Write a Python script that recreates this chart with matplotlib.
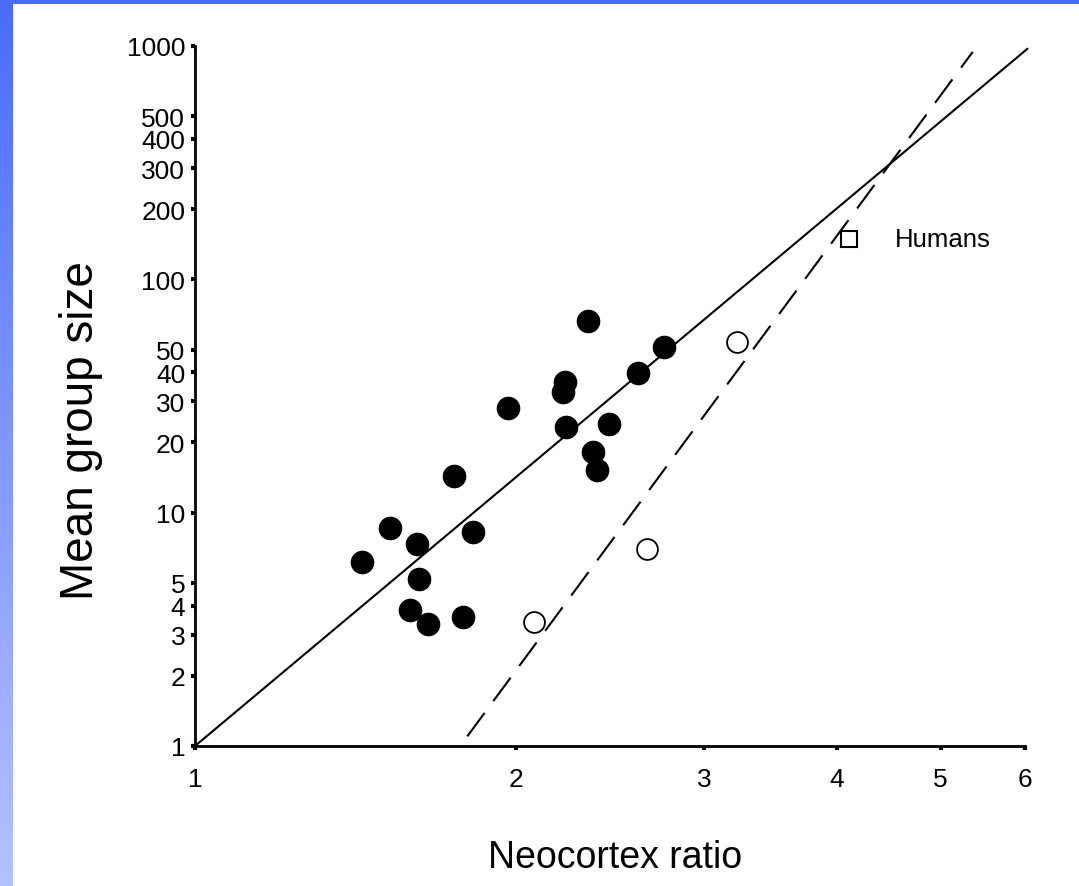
import numpy as np
from matplotlib import pyplot as plt
from matplotlib.colors import LinearSegmentedColormap

# filled circles (non-human primates)
filled_x = [1.433, 1.523, 1.614, 1.622, 1.591, 1.653, 1.785, 1.751, 1.821, 1.965,
            2.223, 2.215, 2.227, 2.335, 2.363, 2.380, 2.446, 2.604, 2.754]
filled_y = [6.13, 8.57, 7.34, 5.20, 3.83, 3.33, 3.56, 14.4, 8.24, 28.1,
            36.2, 32.8, 23.4, 66.1, 18.2, 15.2, 24.0, 39.6, 51.2]

# open circles (apes)
open_x = [2.078, 2.656, 3.223]
open_y = [3.41, 6.99, 53.9]

# humans
human_x = [4.104]
human_y = [149]

# fitted lines (end points)
solid_x = [1.0, 6.03]
solid_y = [1.0, 972]
dash_x = [1.80, 5.36]
dash_y = [1.10, 944]

xticks = [1, 2, 3, 4, 5, 6]
yticks = [1, 2, 3, 4, 5, 10, 20, 30, 40, 50, 100, 200, 300, 400, 500, 1000]

plt.rcParams['font.family'] = ['Liberation Sans', 'DejaVu Sans']

fig = plt.figure(figsize=(10.79, 8.87), dpi=100)

# blue frame: top bar and left gradient stripe
bg = fig.add_axes([0, 0, 1, 1], zorder=-1)
bg.axis('off')
bg.set_xlim(0, 1079)
bg.set_ylim(887, 0)
cmap = LinearSegmentedColormap.from_list('frame', ['#4a6cff', '#b4c2ff'])
grad = np.linspace(0, 1, 200).reshape(-1, 1)
bg.imshow(grad, cmap=cmap, extent=[0, 13, 887, 0], aspect='auto')
bg.fill_between([0, 1079], 0, 5, color='#4a6cff', lw=0)

ax = fig.add_axes([195 / 1079, 140 / 887, 830 / 1079, 700 / 887])
ax.set_xscale('log')
ax.set_yscale('log')
ax.set_xlim(1, 6)
ax.set_ylim(1, 1000)

ax.plot(solid_x, solid_y, color='black', lw=1.5, clip_on=False)
ax.plot(dash_x, dash_y, color='black', lw=1.5, dashes=(14, 7), clip_on=False)

ax.plot(filled_x, filled_y, 'o', ms=16, color='black', mec='black', ls='none')
ax.plot(open_x, open_y, 'o', ms=15, mfc='white', mec='black', mew=1.3, ls='none')
ax.plot(human_x, human_y, 's', ms=12, mfc='white', mec='black', mew=1.5, ls='none')
ax.text(4.53, 149, 'Humans', fontsize=18.5, va='center', ha='left')

ax.xaxis.set_minor_locator(plt.NullLocator())
ax.yaxis.set_minor_locator(plt.NullLocator())
ax.set_xticks(xticks)
ax.set_xticklabels([str(t) for t in xticks])
ax.set_yticks(yticks)
ax.set_yticklabels([str(t) for t in yticks])
ax.tick_params(axis='both', direction='out', length=3, width=3, labelsize=19)
ax.tick_params(axis='x', pad=12)
ax.tick_params(axis='y', pad=4)

for s in ['top', 'right']:
    ax.spines[s].set_visible(False)
for s in ['left', 'bottom']:
    ax.spines[s].set_linewidth(2)

fig.text(615 / 1079, 1 - 858 / 887, 'Neocortex ratio', fontsize=27, ha='center', va='center')
fig.text(81 / 1079, 1 - 431 / 887, 'Mean group size', fontsize=33, ha='center', va='center',
         rotation=90)

fig.savefig('out.png', dpi=100)
